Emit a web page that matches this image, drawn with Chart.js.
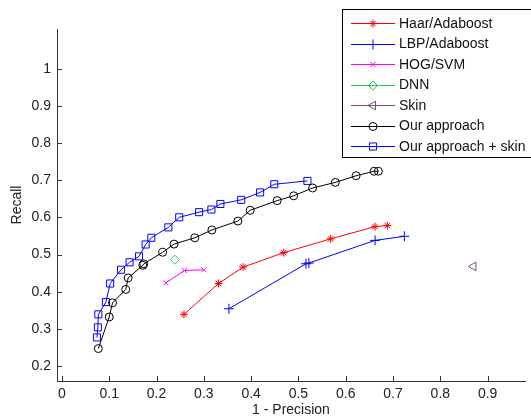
<!DOCTYPE html>
<html>
<head>
<meta charset="utf-8">
<script src="https://cdn.jsdelivr.net/npm/chart.js@4/dist/chart.umd.min.js"></script>
<style>
  html, body { margin: 0; padding: 0; background: #fff; }
  #wrap { width: 531px; height: 419px; }
</style>
</head>
<body>
<div id="wrap"><canvas id="prChart" width="531" height="419"></canvas></div>
<script>
// tick labels
const xTicks = [0, 0.1, 0.2, 0.3, 0.4, 0.5, 0.6, 0.7, 0.8, 0.9];
const yTicks = [0.2, 0.3, 0.4, 0.5, 0.6, 0.7, 0.8, 0.9, 1];

// series: x = 1 - precision, y = recall
const haarX = [0.258, 0.331, 0.383, 0.469, 0.568, 0.662, 0.688];
const haarY = [0.339, 0.422, 0.466, 0.505, 0.542, 0.575, 0.578];

const lbpX = [0.353, 0.516, 0.522, 0.662, 0.724];
const lbpY = [0.354, 0.475, 0.477, 0.538, 0.549];

const hogX = [0.220, 0.259, 0.300];
const hogY = [0.424, 0.457, 0.459];

const dnnX = [0.239];
const dnnY = [0.486];

const skinX = [0.870];
const skinY = [0.468];

const oursX = [0.077, 0.100, 0.107, 0.135, 0.140, 0.171, 0.173, 0.213, 0.237, 0.281, 0.317, 0.372, 0.398, 0.455, 0.490, 0.530, 0.578, 0.622, 0.660, 0.669];
const oursY = [0.247, 0.332, 0.370, 0.406, 0.437, 0.471, 0.475, 0.506, 0.528, 0.545, 0.566, 0.590, 0.619, 0.645, 0.658, 0.679, 0.694, 0.712, 0.724, 0.724];

const skinOursX = [0.074, 0.076, 0.077, 0.093, 0.102, 0.125, 0.143, 0.163, 0.177, 0.189, 0.225, 0.248, 0.290, 0.316, 0.335, 0.379, 0.419, 0.449, 0.519];
const skinOursY = [0.277, 0.304, 0.339, 0.372, 0.422, 0.459, 0.479, 0.495, 0.527, 0.545, 0.573, 0.600, 0.614, 0.621, 0.636, 0.647, 0.667, 0.689, 0.698];

function toPoints(xs, ys) {
    return xs.map((x, i) => ({ x: x, y: ys[i] }));
}

function series(label, xs, ys, color, style, radius, rotation) {
    return {
        label: label,
        data: toPoints(xs, ys),
        borderColor: color,
        backgroundColor: 'rgba(0,0,0,0)',
        borderWidth: 1,
        pointStyle: style,
        pointRadius: radius,
        pointBorderWidth: 1,
        pointBorderColor: color,
        pointBackgroundColor: 'rgba(0,0,0,0)',
        pointRotation: rotation || 0,
        showLine: true,
        tension: 0,
        fill: false
    };
}

const FONT = '"Liberation Sans", Arial, sans-serif';

// inward tick marks, matlab style
const innerTicks = {
    id: 'innerTicks',
    afterDraw(chart) {
        const ctx = chart.ctx;
        const xs = chart.scales.x;
        const ys = chart.scales.y;
        const area = chart.chartArea;
        ctx.save();
        ctx.strokeStyle = '#333';
        ctx.lineWidth = 1;
        ctx.beginPath();
        xTicks.forEach(v => {
            const px = Math.round(xs.getPixelForValue(v)) + 0.5;
            ctx.moveTo(px, area.bottom);
            ctx.lineTo(px, area.bottom - 5);
        });
        yTicks.forEach(v => {
            const py = Math.round(ys.getPixelForValue(v)) + 0.5;
            ctx.moveTo(area.left, py);
            ctx.lineTo(area.left + 5, py);
        });
        ctx.stroke();
        ctx.restore();
    }
};

// boxed legend in the top right corner
const boxLegend = {
    id: 'boxLegend',
    afterDraw(chart) {
        const ctx = chart.ctx;
        const left = 342.5, top = 9.5, w = 200, h = 148;
        ctx.save();
        ctx.fillStyle = '#fff';
        ctx.fillRect(left, top, w, h);
        ctx.strokeStyle = '#000';
        ctx.lineWidth = 1;
        ctx.strokeRect(left, top, w, h);
        ctx.font = '14px ' + FONT;
        ctx.textBaseline = 'middle';
        chart.data.datasets.forEach((ds, i) => {
            const y = 23 + i * 20.5;
            ctx.strokeStyle = ds.borderColor;
            ctx.lineWidth = 1;
            ctx.beginPath();
            ctx.moveTo(351, Math.round(y) + 0.5);
            ctx.lineTo(395, Math.round(y) + 0.5);
            ctx.stroke();
            if (Chart.helpers && Chart.helpers.drawPoint) {
                ctx.fillStyle = ds.pointBackgroundColor;
                Chart.helpers.drawPoint(ctx, {
                    pointStyle: ds.pointStyle,
                    radius: ds.pointRadius,
                    rotation: ds.pointRotation,
                    borderWidth: 1
                }, 373, Math.round(y) + 0.5);
            }
            ctx.fillStyle = '#111';
            ctx.fillText(ds.label, 399, y + 1);
        });
        ctx.restore();
    }
};

const ctx = document.getElementById('prChart').getContext('2d');
const prChart = new Chart(ctx, {
    type: 'scatter',
    data: {
        datasets: [
            series('Haar/Adaboost', haarX, haarY, '#ff0000', 'star', 4),
            series('LBP/Adaboost', lbpX, lbpY, '#0000ff', 'cross', 5),
            series('HOG/SVM', hogX, hogY, '#ff00ff', 'crossRot', 3.5),
            series('DNN', dnnX, dnnY, '#22cc55', 'rectRot', 4.5),
            series('Skin', skinX, skinY, '#7d4a7d', 'triangle', 5, -90),
            series('Our approach', oursX, oursY, '#000000', 'circle', 4),
            series('Our approach + skin', skinOursX, skinOursY, '#0000ff', 'rect', 5)
        ]
    },
    options: {
        responsive: false,
        animation: false,
        layout: { padding: { top: 29, right: 0, left: 0, bottom: 0 } },
        plugins: {
            legend: { display: false },
            tooltip: { enabled: false }
        },
        scales: {
            x: {
                type: 'linear',
                min: -0.0104,
                max: 0.979,
                afterBuildTicks: scale => { scale.ticks = xTicks.map(v => ({ value: v })); },
                afterFit: scale => { scale.height = 38; },
                grid: { display: false, drawTicks: false },
                border: { display: true, color: '#333', width: 1 },
                ticks: {
                    padding: 5,
                    autoSkip: false,
                    maxRotation: 0,
                    color: '#222',
                    font: { family: FONT, size: 14 },
                    callback: v => String(v)
                },
                title: {
                    display: true,
                    text: '1 - Precision',
                    color: '#222',
                    padding: { top: 0, bottom: 0 },
                    font: { family: FONT, size: 14 }
                }
            },
            y: {
                type: 'linear',
                min: 0.1597,
                max: 1.1067,
                afterBuildTicks: scale => { scale.ticks = yTicks.map(v => ({ value: v })); },
                afterFit: scale => { scale.width = 57; },
                grid: { display: false, drawTicks: false },
                border: { display: true, color: '#333', width: 1 },
                ticks: {
                    padding: 6,
                    autoSkip: false,
                    color: '#222',
                    font: { family: FONT, size: 14 },
                    callback: v => String(v)
                },
                title: {
                    display: true,
                    text: 'Recall',
                    color: '#222',
                    padding: { top: 9, bottom: 0 },
                    font: { family: FONT, size: 14 }
                }
            }
        }
    },
    plugins: [innerTicks, boxLegend]
});
</script>
</body>
</html>
